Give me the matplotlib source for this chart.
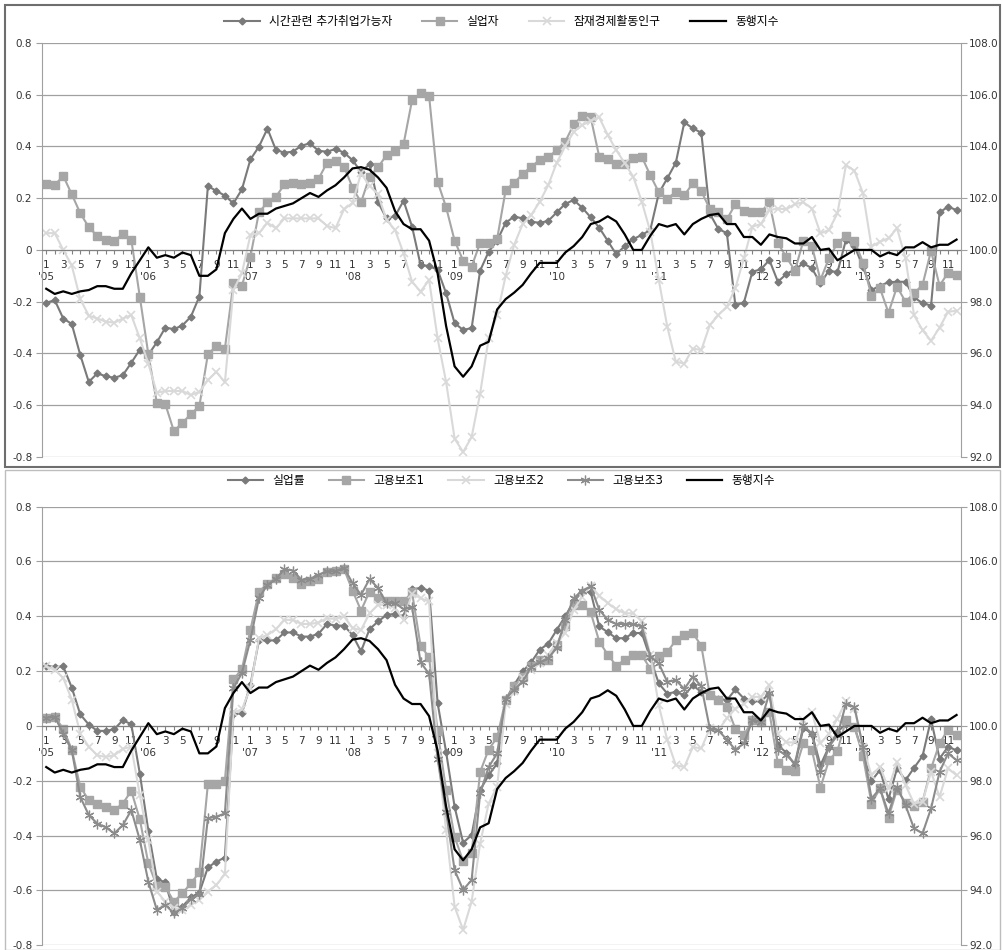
import numpy as np
import matplotlib.pyplot as plt
from matplotlib.patches import Rectangle

plt.rcParams['font.family'] = ['DejaVu Sans', 'Noto Sans CJK KR']

# months Jan 2005 .. Dec 2013
n_months = 108
years = ["'05", "'06", "'07", "'08", "'09", "'10", "'11", "'12", "'13"]

# ---- top panel series
time_related = [
    -0.204, -0.194, -0.265, -0.286, -0.406, -0.51, -0.477, -0.488, -0.494, -0.484, -0.436, -0.385,
    -0.405, -0.357, -0.3, -0.306, -0.292, -0.258, -0.18, 0.247, 0.228, 0.21, 0.18, 0.234,
    0.35, 0.399, 0.469, 0.386, 0.376, 0.38, 0.403, 0.412, 0.383, 0.38, 0.39, 0.376,
    0.347, 0.302, 0.331, 0.184, 0.122, 0.131, 0.19, 0.09, -0.058, -0.062, -0.077, -0.167,
    -0.283, -0.309, -0.302, -0.08, -0.007, 0.036, 0.105, 0.129, 0.122, 0.109, 0.105, 0.112,
    0.145, 0.178, 0.193, 0.163, 0.126, 0.086, 0.035, -0.017, 0.015, 0.042, 0.058, 0.077,
    0.219, 0.277, 0.337, 0.493, 0.47, 0.453, 0.14, 0.081, 0.065, -0.213, -0.204, -0.084,
    -0.075, -0.039, -0.123, -0.093, -0.075, -0.052, -0.071, -0.129, -0.08, -0.086, 0.039, 0.015,
    -0.065, -0.155, -0.138, -0.125, -0.123, -0.123, -0.183, -0.206, -0.215, 0.145, 0.167, 0.154,
]
unemployed = [
    0.255, 0.251, 0.286, 0.215, 0.142, 0.088, 0.054, 0.039, 0.035, 0.062, 0.039, -0.181,
    -0.403, -0.591, -0.596, -0.7, -0.668, -0.635, -0.603, -0.403, -0.372, -0.381, -0.129, -0.138,
    -0.026, 0.145, 0.184, 0.206, 0.253, 0.257, 0.253, 0.26, 0.274, 0.337, 0.343, 0.322,
    0.241, 0.184, 0.283, 0.319, 0.367, 0.383, 0.409, 0.579, 0.605, 0.596, 0.264, 0.165,
    0.036, -0.041, -0.064, 0.027, 0.027, 0.043, 0.231, 0.26, 0.293, 0.322, 0.347, 0.358,
    0.386, 0.418, 0.485, 0.517, 0.512, 0.36, 0.35, 0.332, 0.332, 0.354, 0.36, 0.289,
    0.223, 0.197, 0.225, 0.212, 0.257, 0.227, 0.158, 0.145, 0.118, 0.177, 0.152, 0.145,
    0.145, 0.184, 0.026, -0.028, -0.08, 0.036, 0.015, -0.116, -0.032, 0.026, 0.055, 0.036,
    -0.049, -0.178, -0.148, -0.243, -0.142, -0.2, -0.168, -0.135, -0.003, -0.138, -0.088, -0.097,
]
potential_labor = [
    0.065, 0.065, 0.0, -0.06, -0.19, -0.254, -0.265, -0.277, -0.281, -0.265, -0.252, -0.342,
    -0.439, -0.552, -0.545, -0.545, -0.545, -0.561, -0.548, -0.503, -0.471, -0.512, -0.155, -0.09,
    0.058, 0.065, 0.105, 0.084, 0.122, 0.122, 0.122, 0.122, 0.122, 0.093, 0.084, 0.157,
    0.182, 0.296, 0.248, 0.215, 0.116, 0.077, -0.013, -0.123, -0.161, -0.116, -0.342, -0.51,
    -0.729, -0.781, -0.723, -0.555, -0.342, -0.252, -0.1, 0.02, 0.1, 0.135, 0.186, 0.25,
    0.337, 0.4, 0.457, 0.482, 0.5, 0.512, 0.444, 0.386, 0.335, 0.283, 0.187, 0.071,
    -0.116, -0.297, -0.432, -0.439, -0.381, -0.387, -0.29, -0.252, -0.219, -0.148, -0.032, 0.09,
    0.1, 0.154, 0.16, 0.157, 0.177, 0.184, 0.16, 0.064, 0.077, 0.142, 0.328, 0.306,
    0.219, 0.013, 0.032, 0.045, 0.084, -0.032, -0.252, -0.31, -0.351, -0.3, -0.239, -0.235,
]

# ---- coincident index (right axis), shared by both panels
coincident = [
    98.5, 98.3, 98.4, 98.3, 98.4, 98.45, 98.6, 98.6, 98.5, 98.5, 99.1, 99.6,
    100.1, 99.7, 99.8, 99.7, 99.9, 99.8, 99.0, 99.0, 99.25, 100.65, 101.2, 101.6,
    101.2, 101.4, 101.4, 101.6, 101.7, 101.8, 102.0, 102.2, 102.05, 102.3, 102.5, 102.8,
    103.15, 103.2, 103.1, 102.8, 102.4, 101.5, 101.0, 100.8, 100.8, 100.36, 99.1, 97.06,
    95.5, 95.1, 95.5, 96.3, 96.45, 97.7, 98.1, 98.35, 98.65, 99.1, 99.5, 99.5,
    99.5, 99.9, 100.15, 100.5, 101.0, 101.1, 101.3, 101.1, 100.6, 100.0, 100.0, 100.55,
    101.0, 100.9, 101.0, 100.6, 101.0, 101.2, 101.35, 101.4, 101.0, 101.0, 100.5, 100.5,
    100.2, 100.6, 100.5, 100.45, 100.25, 100.25, 100.5, 100.0, 100.05, 99.6, 99.8, 100.0,
    100.0, 100.0, 99.75, 99.9, 99.8, 100.1, 100.1, 100.3, 100.1, 100.2, 100.2, 100.4,
]

# ---- bottom panel series
unemp_rate = [
    0.22, 0.215, 0.217, 0.14, 0.042, 0.005, -0.018, -0.018, -0.012, 0.021, 0.006, -0.174,
    -0.382, -0.558, -0.571, -0.68, -0.659, -0.625, -0.608, -0.516, -0.495, -0.48, 0.042, 0.047,
    0.15, 0.312, 0.312, 0.312, 0.341, 0.341, 0.326, 0.326, 0.336, 0.372, 0.366, 0.366,
    0.332, 0.272, 0.353, 0.381, 0.405, 0.409, 0.4, 0.499, 0.503, 0.494, 0.084, -0.095,
    -0.295, -0.426, -0.398, -0.234, -0.18, -0.137, 0.096, 0.15, 0.199, 0.232, 0.278, 0.3,
    0.35, 0.4, 0.454, 0.49, 0.488, 0.363, 0.342, 0.32, 0.32, 0.339, 0.339, 0.247,
    0.155, 0.118, 0.124, 0.112, 0.148, 0.124, 0.118, 0.1, 0.094, 0.133, 0.1, 0.09,
    0.09, 0.118, -0.07, -0.098, -0.143, -0.007, -0.028, -0.143, -0.076, -0.022, 0.008, -0.004,
    -0.1, -0.2, -0.161, -0.267, -0.155, -0.198, -0.153, -0.11, 0.024, -0.119, -0.076, -0.089,
]
sub1 = [
    0.03, 0.033, -0.01, -0.086, -0.222, -0.271, -0.285, -0.295, -0.307, -0.283, -0.237, -0.341,
    -0.501, -0.584, -0.586, -0.641, -0.611, -0.574, -0.534, -0.212, -0.212, -0.2, 0.17, 0.207,
    0.351, 0.49, 0.518, 0.539, 0.555, 0.539, 0.518, 0.527, 0.536, 0.56, 0.567, 0.572,
    0.494, 0.421, 0.49, 0.466, 0.454, 0.454, 0.454, 0.487, 0.292, 0.251, -0.02, -0.234,
    -0.404, -0.493, -0.465, -0.168, -0.086, -0.042, 0.096, 0.144, 0.18, 0.217, 0.24, 0.239,
    0.296, 0.365, 0.442, 0.442, 0.414, 0.308, 0.26, 0.22, 0.241, 0.258, 0.258, 0.209,
    0.255, 0.27, 0.312, 0.33, 0.339, 0.292, 0.112, 0.094, 0.07, -0.01, -0.034, 0.02,
    0.015, 0.05, -0.137, -0.159, -0.165, -0.062, -0.089, -0.225, -0.125, -0.091, 0.021, -0.004,
    -0.11, -0.283, -0.228, -0.334, -0.232, -0.28, -0.293, -0.277, -0.155, -0.064, -0.013, -0.034,
]
sub2 = [
    0.217, 0.205, 0.175, 0.096, -0.028, -0.076, -0.107, -0.113, -0.107, -0.083, -0.076, -0.252,
    -0.416, -0.604, -0.641, -0.665, -0.671, -0.653, -0.635, -0.604, -0.58, -0.54, 0.05, 0.06,
    0.14, 0.32, 0.332, 0.353, 0.387, 0.387, 0.372, 0.372, 0.377, 0.393, 0.39, 0.4,
    0.357, 0.35, 0.411, 0.442, 0.442, 0.43, 0.387, 0.482, 0.466, 0.454, -0.1, -0.38,
    -0.659, -0.744, -0.641, -0.429, -0.283, -0.222, 0.08, 0.126, 0.175, 0.205, 0.23, 0.26,
    0.302, 0.339, 0.424, 0.472, 0.511, 0.475, 0.448, 0.426, 0.411, 0.411, 0.381, 0.26,
    0.075, -0.052, -0.143, -0.15, -0.077, -0.082, -0.009, -0.016, 0.028, 0.063, 0.08, 0.106,
    0.106, 0.148, -0.03, -0.06, -0.06, 0.02, 0.05, -0.064, -0.028, 0.027, 0.09, 0.063,
    -0.076, -0.18, -0.149, -0.228, -0.131, -0.216, -0.283, -0.277, -0.167, -0.259, -0.155, -0.18,
]
sub3 = [
    0.03, 0.033, -0.028, -0.089, -0.259, -0.325, -0.356, -0.37, -0.392, -0.362, -0.307, -0.416,
    -0.568, -0.671, -0.653, -0.683, -0.665, -0.631, -0.613, -0.337, -0.331, -0.319, 0.138, 0.193,
    0.314, 0.466, 0.515, 0.536, 0.572, 0.567, 0.533, 0.536, 0.552, 0.564, 0.564, 0.577,
    0.521, 0.478, 0.536, 0.503, 0.448, 0.448, 0.426, 0.433, 0.232, 0.19, -0.12, -0.313,
    -0.526, -0.598, -0.562, -0.246, -0.15, -0.1, 0.1, 0.132, 0.162, 0.215, 0.232, 0.248,
    0.284, 0.387, 0.466, 0.494, 0.509, 0.424, 0.387, 0.372, 0.372, 0.372, 0.363, 0.253,
    0.228, 0.161, 0.167, 0.135, 0.18, 0.145, -0.01, -0.016, -0.05, -0.087, -0.064, 0.02,
    0.015, 0.12, -0.089, -0.107, -0.137, 0.002, -0.028, -0.168, -0.076, -0.034, 0.081, 0.069,
    -0.076, -0.265, -0.228, -0.319, -0.222, -0.289, -0.374, -0.392, -0.301, -0.168, -0.1, -0.125,
]

x = np.arange(n_months)

fig = plt.figure(figsize=(10.02, 9.5), dpi=100)

# chart area frames
fig.patches.append(Rectangle((0.005, 0.508), 0.993, 0.487, transform=fig.transFigure,
                             fill=False, ec='#6e6e6e', lw=1.5))
fig.patches.append(Rectangle((0.005, 0.0), 0.993, 0.505, transform=fig.transFigure,
                             fill=False, ec='#bdbdbd', lw=1.0))


def setup_axes(ax):
    ax.set_xlim(-0.5, n_months - 0.5)
    ax.set_ylim(-0.8, 0.8)
    ax.set_yticks(np.arange(-0.8, 0.81, 0.2))
    ax.set_yticklabels(['-0.8', '-0.6', '-0.4', '-0.2', '0', '0.2', '0.4', '0.6', '0.8'])
    ax.yaxis.grid(True, color='#a0a0a0', lw=0.9)
    ax.set_axisbelow(True)
    for s in ['top', 'right']:
        ax.spines[s].set_visible(False)
    ax.spines['left'].set_color('#a0a0a0')
    ax.spines['bottom'].set_position(('data', 0))
    ax.spines['bottom'].set_color('#808080')
    ax.tick_params(axis='y', length=4, color='#a0a0a0', labelsize=7.5, labelcolor='#333333', pad=3)
    ax.set_xticks(x)
    labels = []
    for i in x:
        m = i % 12 + 1
        if m % 2 == 1:
            lab = str(m)
            if m == 1:
                lab += '\n' + years[i // 12]
        else:
            lab = ''
        labels.append(lab)
    ax.set_xticklabels(labels, fontsize=7.5, color='#333333', linespacing=1.3,
                       va='top', ha='center')
    ax.tick_params(axis='x', length=3, direction='out', color='#808080', pad=4)


def setup_right(ax2):
    ax2.set_ylim(92, 108)
    ax2.set_yticks(np.arange(92, 108.1, 2))
    ax2.set_yticklabels([f'{v:.1f}' for v in np.arange(92, 108.1, 2)])
    for s in ['top', 'left', 'bottom']:
        ax2.spines[s].set_visible(False)
    ax2.spines['right'].set_color('#a0a0a0')
    ax2.tick_params(axis='y', length=4, color='#a0a0a0', labelsize=7.5, labelcolor='#333333', pad=2)


c_dark = '#7a7a7a'
c_mid = '#a6a6a6'
c_light = '#d9d9d9'
c_star = '#8c8c8c'

# ---------- top panel
ax1 = fig.add_axes([0.0419, 0.519, 0.917, 0.4358])
setup_axes(ax1)
l1, = ax1.plot(x, time_related, color=c_dark, marker='D', ms=3.5, lw=1.5,
               label='시간관련 추가취업가능자')
l2, = ax1.plot(x, unemployed, color=c_mid, marker='s', ms=6, lw=1.5, label='실업자')
l3, = ax1.plot(x, potential_labor, color=c_light, marker='x', ms=6, mew=1.2, lw=1.5,
               label='잠재경제활동인구')
ax1r = ax1.twinx()
setup_right(ax1r)
l4, = ax1r.plot(x, coincident, color='black', lw=1.6, label='동행지수')
ax1.legend(handles=[l1, l2, l3, l4], loc='lower center', bbox_to_anchor=(0.5, 1.01),
           ncol=4, frameon=False, fontsize=8.5, handlelength=3, columnspacing=2.5)

# ---------- bottom panel
ax2 = fig.add_axes([0.0419, 0.005, 0.917, 0.4617])
setup_axes(ax2)
m1, = ax2.plot(x, unemp_rate, color=c_dark, marker='D', ms=3.5, lw=1.5, label='실업률')
m2, = ax2.plot(x, sub1, color=c_mid, marker='s', ms=6, lw=1.5, label='고용보조1')
m3, = ax2.plot(x, sub2, color=c_light, marker='x', ms=6, mew=1.2, lw=1.5, label='고용보조2')
m4, = ax2.plot(x, sub3, color=c_star, marker=(6, 2, 0), ms=7, mew=0.9, lw=1.5, label='고용보조3')
ax2r = ax2.twinx()
setup_right(ax2r)
m5, = ax2r.plot(x, coincident, color='black', lw=1.6, label='동행지수')
ax2.legend(handles=[m1, m2, m3, m4, m5], loc='lower center', bbox_to_anchor=(0.5, 1.02),
           ncol=5, frameon=False, fontsize=8.5, handlelength=3, columnspacing=2.0)

fig.savefig('out.png', dpi=100)
